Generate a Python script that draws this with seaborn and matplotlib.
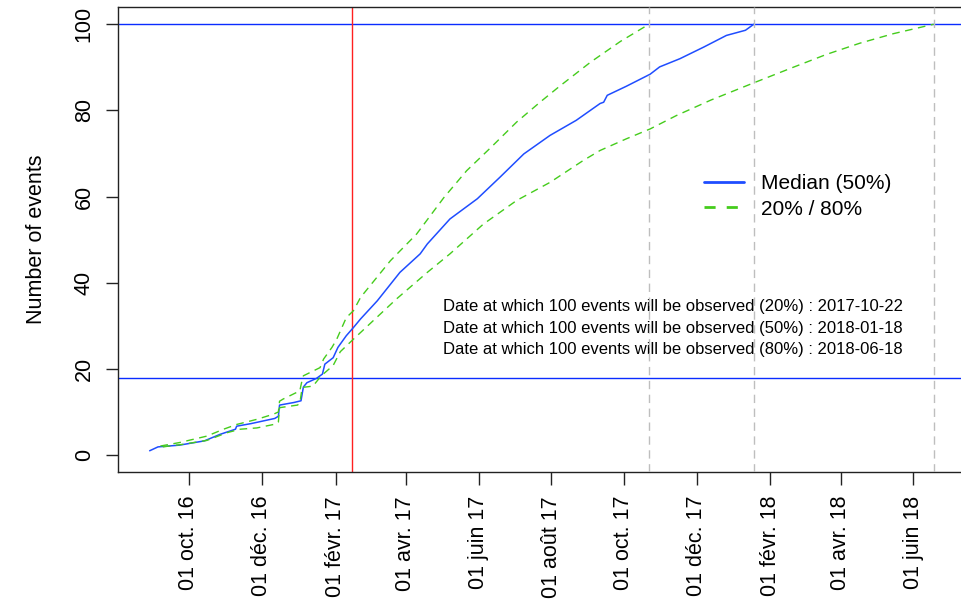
import matplotlib
matplotlib.use("Agg")
import matplotlib.pyplot as plt
import matplotlib.dates as mdates
from matplotlib.lines import Line2D
import numpy as np
import pandas as pd
import seaborn as sns

# Median projection of the cumulative number of events
median_dates = ["2016-08-29", "2016-09-05", "2016-09-23", "2016-10-14", "2016-10-27",
                "2016-11-09", "2016-11-10", "2016-11-22", "2016-12-12", "2016-12-15",
                "2016-12-16", "2016-12-28", "2017-01-03", "2017-01-05", "2017-01-08",
                "2017-01-16", "2017-01-21", "2017-01-23", "2017-01-30", "2017-02-03",
                "2017-02-10", "2017-02-16", "2017-02-22", "2017-03-08", "2017-03-27",
                "2017-04-13", "2017-04-19", "2017-05-08", "2017-05-31", "2017-06-19",
                "2017-07-09", "2017-07-31", "2017-08-22", "2017-09-11", "2017-09-14",
                "2017-09-17", "2017-10-03", "2017-10-23", "2017-10-31", "2017-11-17",
                "2017-12-07", "2017-12-26", "2018-01-11", "2018-01-18"]
median_values = [1.0, 1.9, 2.3, 3.3, 4.8,
                 6.0, 6.7, 7.3, 8.5, 9.0,
                 11.6, 12.2, 12.6, 15.8, 16.8,
                 17.8, 18.8, 21.1, 22.6, 25.0,
                 27.7, 29.6, 31.6, 35.8, 42.4,
                 46.7, 49.0, 54.8, 59.5, 64.5,
                 69.9, 74.2, 77.7, 81.6, 81.9,
                 83.5, 85.6, 88.4, 90.1, 92.0,
                 94.7, 97.4, 98.6, 100.0]

# Fast scenario (20%)
fast_dates = ["2016-09-07", "2016-09-23", "2016-10-16", "2016-10-30", "2016-11-10",
              "2016-11-27", "2016-12-11", "2016-12-15", "2016-12-16", "2016-12-19",
              "2017-01-02", "2017-01-04", "2017-01-05", "2017-01-19", "2017-01-22",
              "2017-01-29", "2017-02-02", "2017-02-10", "2017-02-16", "2017-02-22",
              "2017-03-19", "2017-04-10", "2017-05-03", "2017-05-22", "2017-06-11",
              "2017-07-03", "2017-07-23", "2017-08-08", "2017-09-03", "2017-09-28",
              "2017-10-22"]
fast_values = [2.1, 2.9, 4.4, 6.0, 7.1,
               8.3, 9.5, 10.0, 12.5, 13.0,
               14.9, 17.5, 18.4, 20.3, 22.3,
               25.0, 26.9, 31.9, 33.5, 36.6,
               45.1, 51.3, 59.8, 66.0, 71.3,
               77.3, 82.0, 85.6, 91.2, 96.0,
               100.0]

# Slow scenario (80%)
slow_dates = ["2016-09-09", "2016-09-26", "2016-10-16", "2016-11-02", "2016-11-13",
              "2016-11-27", "2016-12-11", "2016-12-15", "2016-12-16", "2016-12-31",
              "2017-01-02", "2017-01-04", "2017-01-13", "2017-01-20", "2017-01-30",
              "2017-02-05", "2017-02-16", "2017-03-24", "2017-04-19", "2017-05-08",
              "2017-06-05", "2017-07-03", "2017-07-31", "2017-08-28", "2017-09-11",
              "2017-10-03", "2017-10-23", "2017-11-14", "2017-12-13", "2018-01-18",
              "2018-02-20", "2018-03-20", "2018-04-17", "2018-05-15", "2018-06-18"]
slow_values = [1.9, 2.5, 3.4, 5.2, 6.0,
               6.3, 7.1, 7.6, 11.0, 11.6,
               12.0, 15.7, 16.0, 18.4, 20.8,
               24.0, 26.9, 36.2, 42.4, 46.7,
               53.6, 59.1, 63.3, 68.4, 70.7,
               73.4, 75.7, 78.8, 82.4, 86.4,
               90.0, 93.0, 95.6, 97.8, 100.0]

target_events = 100
current_events = 18
current_date = "2017-02-15"
reach_dates = {"20%": "2017-10-22", "50%": "2018-01-18", "80%": "2018-06-18"}

tick_dates = ["2016-10-01", "2016-12-01", "2017-02-01", "2017-04-01", "2017-06-01",
              "2017-08-01", "2017-10-01", "2017-12-01", "2018-02-01", "2018-04-01",
              "2018-06-01"]
tick_labels = ["01 oct. 16", "01 déc. 16", "01 févr. 17", "01 avr. 17", "01 juin 17",
               "01 août 17", "01 oct. 17", "01 déc. 17", "01 févr. 18", "01 avr. 18",
               "01 juin 18"]
y_ticks = [0, 20, 40, 60, 80, 100]

sns.set_style("ticks")
plt.rcParams["font.family"] = ["Liberation Sans", "DejaVu Sans"]
plt.rcParams["text.color"] = "black"
plt.rcParams["axes.labelcolor"] = "black"
plt.rcParams["xtick.color"] = "black"
plt.rcParams["ytick.color"] = "black"

median_df = pd.DataFrame({"date": pd.to_datetime(median_dates), "events": median_values})
fast_df = pd.DataFrame({"date": pd.to_datetime(fast_dates), "events": fast_values})
slow_df = pd.DataFrame({"date": pd.to_datetime(slow_dates), "events": slow_values})

W, H = 962, 603
fig = plt.figure(figsize=(W / 100, H / 100), dpi=100)
left, right, top, bottom = 118.3, 965.1, 7.0, 472.3
ax = fig.add_axes([left / W, 1 - bottom / H, (right - left) / W, (bottom - top) / H])

green = "#45cc1c"
blue = "#0a2cff"
median_color = "#1f4dff"

sns.lineplot(data=median_df, x="date", y="events", ax=ax, color=median_color,
             linewidth=1.1, label="Median (50%)", zorder=3)
sns.lineplot(data=fast_df, x="date", y="events", ax=ax, color=green,
             linewidth=1.0, label="20% / 80%", zorder=3)
sns.lineplot(data=slow_df, x="date", y="events", ax=ax, color=green,
             linewidth=1.0, label="_nolegend_", zorder=3)
for ln in ax.get_lines()[1:3]:
    ln.set_dashes((5.5, 4))

ax.axhline(target_events, color=blue, linewidth=1.0, zorder=2)
ax.axhline(current_events, color=blue, linewidth=1.0, zorder=2)
ax.axvline(pd.Timestamp(current_date), color="#ff2020", linewidth=1.0, zorder=2)
for d in reach_dates.values():
    ax.axvline(pd.Timestamp(d), color="#bebebe", linewidth=1.0,
               dashes=(6, 4), zorder=4)

# Axis ranges padded by 4% as in base R graphics
all_dates = pd.to_datetime(median_dates + fast_dates + slow_dates)
x0, x1 = mdates.date2num(all_dates.min()), mdates.date2num(all_dates.max())
pad = 0.04 * (x1 - x0)
ax.set_xlim(x0 - pad, x1 + pad)
ax.set_ylim(-4, 104)

ax.set_xticks(mdates.date2num(pd.to_datetime(tick_dates)))
ax.set_xticklabels(tick_labels, rotation=90, fontsize=15.5)
ax.set_yticks(y_ticks)
ax.set_yticklabels([str(v) for v in y_ticks], rotation=90, va="center", fontsize=15.5)
ax.tick_params(axis="both", direction="out", length=9, width=1.0, color="#222222")
ax.tick_params(axis="x", pad=8)
ax.tick_params(axis="y", pad=8)

ax.set_xlabel("")
ax.set_ylabel("Number of events", fontsize=15.5, labelpad=19)

for side in ["left", "bottom", "top", "right"]:
    ax.spines[side].set_visible(True)
    ax.spines[side].set_color("#222222")
    ax.spines[side].set_linewidth(1.0)

handles = [Line2D([], [], color=median_color, linewidth=2.0),
           Line2D([], [], color=green, linewidth=2.0, dashes=(4, 4))]
ax.legend(handles, ["Median (50%)", "20% / 80%"], loc="center left",
          bbox_to_anchor=(0.692, 0.593), frameon=False, fontsize=15,
          handlelength=1.9, handletextpad=0.8, labelspacing=0.3,
          borderpad=0, borderaxespad=0)

label_y = [0.3560, 0.3090, 0.2640]
for (pct, d), yy in zip(reach_dates.items(), label_y):
    ax.text(0.3834, yy, f"Date at which {target_events} events will be observed ({pct}) : {d}",
            transform=ax.transAxes, ha="left", va="center", fontsize=12, zorder=1)

fig.savefig("out.png", dpi=100)
